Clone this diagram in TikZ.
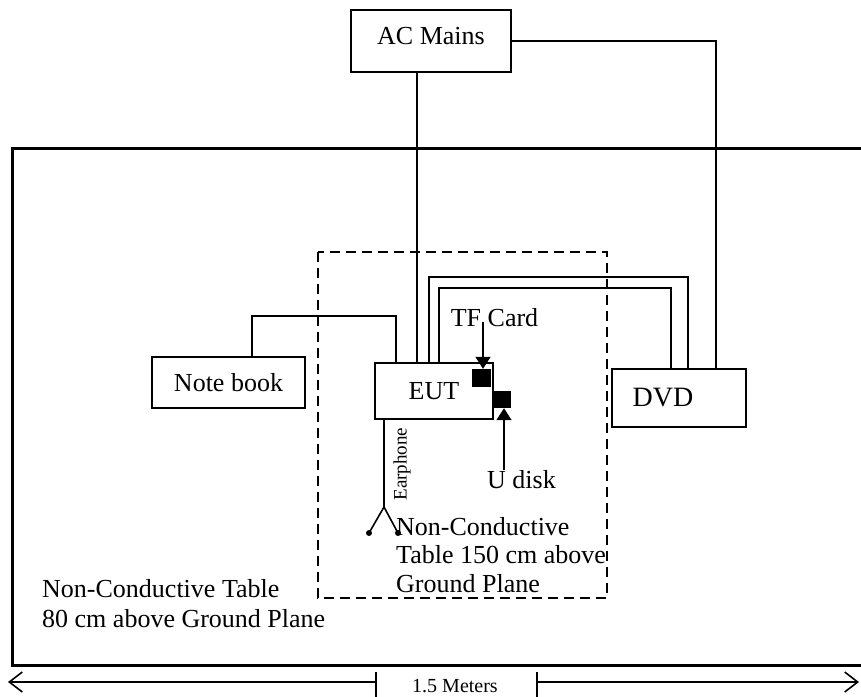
\documentclass[tikz,border=0pt]{standalone}
\usepackage{fontspec}
\setmainfont{Liberation Serif}
\usetikzlibrary{arrows.meta}
\begin{document}
\begin{tikzpicture}[x=1pt,y=-1pt,
  wire/.style={line width=1.6pt},
  box/.style={draw,line width=1.6pt,inner sep=0pt,font=\fontsize{26}{30}\selectfont},
  plug/.style={fill=black,draw=none,inner sep=0pt},
  lbl/.style={inner sep=0pt,font=\fontsize{26}{30}\selectfont},
  tip/.style={-{Triangle[length=12pt,width=15pt]}},
  barb/.style={-{Straight Barb[length=13pt,width=20pt]}}
  ]
\path[use as bounding box] (0,0) rectangle (861,696);
\clip (0,0) rectangle (861,696);
% tables
\draw[line width=3pt] (870,148) -- (12.5,148) -- (12.5,665) -- (870,665);
\draw[line width=2pt, dash pattern=on 10pt off 6pt] (318,252) rectangle (607,598);
% devices
\node[box,minimum width=160pt,minimum height=62pt,text depth=11pt] (ac) at (431,41) {AC Mains};
\node[box,minimum width=153pt,minimum height=51pt] (nb) at (228.5,382.5) {Note book};
\node[box,minimum width=118pt,minimum height=56pt] (eut) at (434,391) {EUT};
\node[box,minimum width=134pt,minimum height=58pt,font=\fontsize{28}{30}\selectfont] (dvd) at (679,398) {DVD\rule{32pt}{0pt}};
\node[plug,minimum width=19pt,minimum height=18pt] (tf) at (481,378) {};
\node[plug,minimum width=18pt,minimum height=17pt] (ud) at (502,399.5) {};
% labels
\node[lbl] (tft) at (494.5,318) {TF Card};
\node[lbl,anchor=base west] (udt) at (487,488) {U disk};
\node[lbl,rotate=90,font=\fontsize{19}{20}\selectfont] (ear) at (402,464) {Earphone};
\node[lbl,anchor=north west,align=left,font=\fontsize{26}{28.5}\selectfont] (t150) at (396,517) {Non-Conductive\\Table 150 cm above\\Ground Plane};
\node[lbl,anchor=north west,align=left,font=\fontsize{26}{30}\selectfont] (t80) at (42,579) {Non-Conductive Table\\80 cm above Ground Plane};
\node[lbl,anchor=base,font=\fontsize{20}{24}\selectfont] (m) at (455,692) {1.5 Meters};
% connectors
\coordinate (p1) at (417,0);
\draw[wire] (ac.south -| p1) -- (eut.north -| p1);
\coordinate (p2) at (716,0);
\draw[wire] (ac.east) -| (dvd.north -| p2);
\coordinate (n1) at (396,316);
\coordinate (n2) at (252,316);
\draw[wire] (eut.north -| n1) -- (n1) -- (n2) -- (nb.north -| n2);
\coordinate (d1) at (429,277);
\coordinate (d2) at (688,277);
\coordinate (d3) at (439,288);
\coordinate (d4) at (671,288);
\draw[wire] (eut.north -| d1) -- (d1) -- (d2) -- (dvd.north -| d2);
\draw[wire] (eut.north -| d3) -- (d3) -- (d4) -- (dvd.north -| d4);
\coordinate (a1) at (483,322);
\draw[wire,tip] (a1) -- (tf.north -| a1);
\coordinate (a2) at (504,470);
\draw[wire,tip] (a2) -- (ud.south -| a2);
% earphone
\coordinate (e1) at (384,507);
\coordinate (e2) at (369,533);
\coordinate (e3) at (398,533);
\draw[wire] (eut.south -| e1) -- (e1) -- (e2);
\draw[wire] (e1) -- (e3);
\fill (e2) circle (3pt);
\fill (e3) circle (3pt);
% dimension
\coordinate (la) at (8,682);
\coordinate (lt) at (376,682);
\coordinate (rt) at (537,682);
\coordinate (ra) at (859,682);
\draw[wire,barb] (lt) -- (la);
\draw[wire,barb] (rt) -- (ra);
\draw[wire] (lt |- 0,672) -- (lt |- 0,700);
\draw[wire] (rt |- 0,672) -- (rt |- 0,700);
\end{tikzpicture}
\end{document}
